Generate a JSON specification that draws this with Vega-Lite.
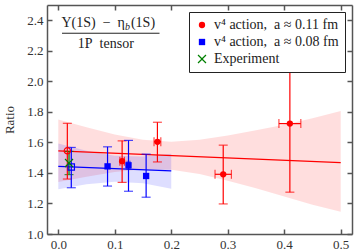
{
  "$schema": "https://vega.github.io/schema/vega-lite/v6.json",
  "width": 305,
  "height": 229,
  "autosize": {"type": "none"},
  "padding": {"left": 47, "top": 5, "right": 5, "bottom": 18},
  "datasets": {
    "pts": [
      {"series": "v⁴ action,\u00a0 a ≈ 0.11 fm", "x": 0.113, "y": 1.477, "ylo": 1.338, "yhi": 1.61, "xlo": 0.109, "xhi": 0.117},
      {"series": "v⁴ action,\u00a0 a ≈ 0.11 fm", "x": 0.1755, "y": 1.604, "ylo": 1.472, "yhi": 1.732, "xlo": 0.1695, "xhi": 0.1815},
      {"series": "v⁴ action,\u00a0 a ≈ 0.11 fm", "x": 0.292, "y": 1.391, "ylo": 1.197, "yhi": 1.582, "xlo": 0.2775, "xhi": 0.3065},
      {"series": "v⁴ action,\u00a0 a ≈ 0.11 fm", "x": 0.41, "y": 1.723, "ylo": 1.274, "yhi": 2.172, "xlo": 0.3906, "xhi": 0.4294},
      {"series": "v⁴ action,\u00a0 a ≈ 0.08 fm", "x": 0.0872, "y": 1.443, "ylo": 1.314, "yhi": 1.571},
      {"series": "v⁴ action,\u00a0 a ≈ 0.08 fm", "x": 0.1243, "y": 1.45, "ylo": 1.28, "yhi": 1.613, "xlo": 0.1218, "xhi": 0.1268},
      {"series": "v⁴ action,\u00a0 a ≈ 0.08 fm", "x": 0.1555, "y": 1.38, "ylo": 1.241, "yhi": 1.523},
      {"series": "Experiment", "x": 0.019, "y": 1.465, "ylo": 1.389, "yhi": 1.541}
    ],
    "open": [
      {"series": "v⁴ action,\u00a0 a ≈ 0.11 fm", "x": 0.016, "y": 1.545, "ylo": 1.36, "yhi": 1.725},
      {"series": "v⁴ action,\u00a0 a ≈ 0.08 fm", "x": 0.023, "y": 1.439, "ylo": 1.303, "yhi": 1.567}
    ],
    "band": [
      {"series": "v⁴ action,\u00a0 a ≈ 0.11 fm", "x": 0.0, "lo": 1.34, "hi": 1.75},
      {"series": "v⁴ action,\u00a0 a ≈ 0.11 fm", "x": 0.05, "lo": 1.375, "hi": 1.699},
      {"series": "v⁴ action,\u00a0 a ≈ 0.11 fm", "x": 0.1, "lo": 1.406, "hi": 1.652},
      {"series": "v⁴ action,\u00a0 a ≈ 0.11 fm", "x": 0.15, "lo": 1.424, "hi": 1.617},
      {"series": "v⁴ action,\u00a0 a ≈ 0.11 fm", "x": 0.2, "lo": 1.421, "hi": 1.605},
      {"series": "v⁴ action,\u00a0 a ≈ 0.11 fm", "x": 0.25, "lo": 1.393, "hi": 1.617},
      {"series": "v⁴ action,\u00a0 a ≈ 0.11 fm", "x": 0.3, "lo": 1.349, "hi": 1.645},
      {"series": "v⁴ action,\u00a0 a ≈ 0.11 fm", "x": 0.35, "lo": 1.299, "hi": 1.679},
      {"series": "v⁴ action,\u00a0 a ≈ 0.11 fm", "x": 0.4, "lo": 1.246, "hi": 1.716},
      {"series": "v⁴ action,\u00a0 a ≈ 0.11 fm", "x": 0.45, "lo": 1.191, "hi": 1.758},
      {"series": "v⁴ action,\u00a0 a ≈ 0.11 fm", "x": 0.5, "lo": 1.145, "hi": 1.805},
      {"series": "v⁴ action,\u00a0 a ≈ 0.08 fm", "x": 0.0, "lo": 1.293, "hi": 1.593},
      {"series": "v⁴ action,\u00a0 a ≈ 0.08 fm", "x": 0.05, "lo": 1.326, "hi": 1.545},
      {"series": "v⁴ action,\u00a0 a ≈ 0.08 fm", "x": 0.1, "lo": 1.343, "hi": 1.512},
      {"series": "v⁴ action,\u00a0 a ≈ 0.08 fm", "x": 0.15, "lo": 1.333, "hi": 1.508},
      {"series": "v⁴ action,\u00a0 a ≈ 0.08 fm", "x": 0.2, "lo": 1.296, "hi": 1.525}
    ],
    "fit": [
      {"series": "v⁴ action,\u00a0 a ≈ 0.11 fm", "x": 0.0, "y": 1.545},
      {"series": "v⁴ action,\u00a0 a ≈ 0.11 fm", "x": 0.5, "y": 1.467},
      {"series": "v⁴ action,\u00a0 a ≈ 0.08 fm", "x": 0.0, "y": 1.443},
      {"series": "v⁴ action,\u00a0 a ≈ 0.08 fm", "x": 0.2, "y": 1.413}
    ],
    "one": [{}]
  },
  "resolve": {"axis": {"x": "independent", "y": "independent"}},
  "layer": [
    {
      "data": {"name": "band"},
      "mark": {"type": "area", "opacity": 0.13},
      "encoding": {
        "x": {"field": "x", "type": "quantitative", "scale": {"domain": [-0.02, 0.52], "nice": false, "zero": false},
              "axis": {"orient": "bottom", "values": [0, 0.1, 0.2, 0.3, 0.4, 0.5], "format": ".1f", "title": null}},
        "y": {"field": "lo", "type": "quantitative", "scale": {"domain": [1.0, 2.5], "nice": false, "zero": false},
              "axis": {"orient": "left", "values": [1.0, 1.2, 1.4, 1.6, 1.8, 2.0, 2.2, 2.4], "format": ".1f", "title": "Ratio", "titlePadding": 10}},
        "y2": {"field": "hi"},
        "color": {"field": "series", "type": "nominal", "legend": null,
                  "scale": {"domain": ["v⁴ action,\u00a0 a ≈ 0.11 fm", "v⁴ action,\u00a0 a ≈ 0.08 fm"], "range": ["#ff0000", "#0000ff"]}},
        "detail": {"field": "series"}
      }
    },
    {
      "data": {"name": "fit"},
      "mark": {"type": "line", "strokeWidth": 1.2},
      "encoding": {
        "x": {"field": "x", "type": "quantitative", "scale": {"domain": [-0.02, 0.52], "nice": false, "zero": false},
              "axis": {"orient": "top", "values": [0, 0.1, 0.2, 0.3, 0.4, 0.5], "labels": false, "title": null}},
        "y": {"field": "y", "type": "quantitative", "scale": {"domain": [1.0, 2.5], "nice": false, "zero": false},
              "axis": {"orient": "right", "values": [1.0, 1.2, 1.4, 1.6, 1.8, 2.0, 2.2, 2.4], "labels": false, "title": null}},
        "color": {"field": "series", "type": "nominal", "legend": null,
                  "scale": {"domain": ["v⁴ action,\u00a0 a ≈ 0.11 fm", "v⁴ action,\u00a0 a ≈ 0.08 fm"], "range": ["#ff0000", "#0000ff"]}}
      }
    },
    {
      "data": {"name": "pts"},
      "transform": [{"filter": "datum.series != 'Experiment'"}],
      "mark": {"type": "errorbar", "ticks": {"size": 9, "thickness": 1.2}, "thickness": 1.2},
      "encoding": {
        "x": {"field": "x", "type": "quantitative", "scale": {"domain": [-0.02, 0.52], "nice": false, "zero": false}, "axis": null},
        "y": {"field": "ylo", "type": "quantitative", "scale": {"domain": [1.0, 2.5], "nice": false, "zero": false}, "axis": null},
        "y2": {"field": "yhi"},
        "color": {"field": "series", "type": "nominal", "legend": null,
                  "scale": {"domain": ["v⁴ action,\u00a0 a ≈ 0.11 fm", "v⁴ action,\u00a0 a ≈ 0.08 fm"], "range": ["#ff0000", "#0000ff"]}}
      }
    },
    {
      "data": {"name": "pts"},
      "transform": [{"filter": "datum.series == 'Experiment'"}],
      "mark": {"type": "errorbar", "ticks": {"size": 9, "thickness": 1.2}, "thickness": 1.2, "color": "#008000"},
      "encoding": {
        "x": {"field": "x", "type": "quantitative", "scale": {"domain": [-0.02, 0.52], "nice": false, "zero": false}, "axis": null},
        "y": {"field": "ylo", "type": "quantitative", "scale": {"domain": [1.0, 2.5], "nice": false, "zero": false}, "axis": null},
        "y2": {"field": "yhi"}
      }
    },
    {
      "data": {"name": "open"},
      "mark": {"type": "errorbar", "ticks": {"size": 9, "thickness": 1.2}, "thickness": 1.2},
      "encoding": {
        "x": {"field": "x", "type": "quantitative", "scale": {"domain": [-0.02, 0.52], "nice": false, "zero": false}, "axis": null},
        "y": {"field": "ylo", "type": "quantitative", "scale": {"domain": [1.0, 2.5], "nice": false, "zero": false}, "axis": null},
        "y2": {"field": "yhi"},
        "color": {"field": "series", "type": "nominal", "legend": null,
                  "scale": {"domain": ["v⁴ action,\u00a0 a ≈ 0.11 fm", "v⁴ action,\u00a0 a ≈ 0.08 fm"], "range": ["#ff0000", "#0000ff"]}}
      }
    },
    {
      "data": {"name": "pts"},
      "transform": [{"filter": "isValid(datum.xlo)"}],
      "mark": {"type": "errorbar", "ticks": {"size": 9, "thickness": 1.2}, "thickness": 1.2},
      "encoding": {
        "y": {"field": "y", "type": "quantitative", "scale": {"domain": [1.0, 2.5], "nice": false, "zero": false}, "axis": null},
        "x": {"field": "xlo", "type": "quantitative", "scale": {"domain": [-0.02, 0.52], "nice": false, "zero": false}, "axis": null},
        "x2": {"field": "xhi"},
        "color": {"field": "series", "type": "nominal", "legend": null,
                  "scale": {"domain": ["v⁴ action,\u00a0 a ≈ 0.11 fm", "v⁴ action,\u00a0 a ≈ 0.08 fm"], "range": ["#ff0000", "#0000ff"]}}
      }
    },
    {
      "data": {"name": "open"},
      "mark": {"type": "point", "filled": false, "strokeWidth": 1.2, "size": 40, "opacity": 1},
      "encoding": {
        "x": {"field": "x", "type": "quantitative", "scale": {"domain": [-0.02, 0.52], "nice": false, "zero": false}, "axis": null},
        "y": {"field": "y", "type": "quantitative", "scale": {"domain": [1.0, 2.5], "nice": false, "zero": false}, "axis": null},
        "color": {"field": "series", "type": "nominal", "legend": null,
                  "scale": {"domain": ["v⁴ action,\u00a0 a ≈ 0.11 fm", "v⁴ action,\u00a0 a ≈ 0.08 fm"], "range": ["#ff0000", "#0000ff"]}},
        "shape": {"condition": {"test": "indexof(datum.series, '0.08') >= 0", "value": "square"}, "value": "circle"}
      }
    },
    {
      "data": {"name": "pts"},
      "mark": {"type": "point", "filled": true, "size": 40, "opacity": 1},
      "encoding": {
        "x": {"field": "x", "type": "quantitative", "scale": {"domain": [-0.02, 0.52], "nice": false, "zero": false}, "axis": null},
        "y": {"field": "y", "type": "quantitative", "scale": {"domain": [1.0, 2.5], "nice": false, "zero": false}, "axis": null},
        "fill": {"field": "series", "type": "nominal", "title": null,
                  "scale": {"domain": ["v⁴ action,\u00a0 a ≈ 0.11 fm", "v⁴ action,\u00a0 a ≈ 0.08 fm", "Experiment"], "range": ["#ff0000", "#0000ff", "#008000"]},
                  "legend": {"orient": "top-right", "offset": 7}},
        "shape": {"field": "series", "type": "nominal", "title": null,
                  "scale": {"domain": ["v⁴ action,\u00a0 a ≈ 0.11 fm", "v⁴ action,\u00a0 a ≈ 0.08 fm", "Experiment"], "range": ["circle", "square", "M-1.4,-1.12L-1.12,-1.4L0,-0.28L1.12,-1.4L1.4,-1.12L0.28,0L1.4,1.12L1.12,1.4L0,0.28L-1.12,1.4L-1.4,1.12L-0.28,0Z"]},
                  "legend": {"orient": "top-right", "offset": 7}}
      }
    },
    {
      "data": {"name": "one"},
      "mark": {"type": "text", "text": "Υ(1S)\u2002−\u2002η", "align": "right", "baseline": "middle", "fontSize": 14, "font": "Liberation Serif", "color": "#222"},
      "encoding": {
        "x": {"datum": 0.118, "type": "quantitative", "scale": {"domain": [-0.02, 0.52], "nice": false, "zero": false}, "axis": null},
        "y": {"datum": 2.382, "type": "quantitative", "scale": {"domain": [1.0, 2.5], "nice": false, "zero": false}, "axis": null}
      }
    },
    {
      "data": {"name": "one"},
      "mark": {"type": "text", "text": "b", "align": "left", "baseline": "middle", "dy": 4, "fontSize": 10, "fontStyle": "italic", "font": "Liberation Serif", "color": "#222"},
      "encoding": {
        "x": {"datum": 0.118, "type": "quantitative", "scale": {"domain": [-0.02, 0.52], "nice": false, "zero": false}, "axis": null},
        "y": {"datum": 2.382, "type": "quantitative", "scale": {"domain": [1.0, 2.5], "nice": false, "zero": false}, "axis": null}
      }
    },
    {
      "data": {"name": "one"},
      "mark": {"type": "text", "text": "(1S)", "align": "left", "baseline": "middle", "dx": 6, "fontSize": 14, "font": "Liberation Serif", "color": "#222"},
      "encoding": {
        "x": {"datum": 0.118, "type": "quantitative", "scale": {"domain": [-0.02, 0.52], "nice": false, "zero": false}, "axis": null},
        "y": {"datum": 2.382, "type": "quantitative", "scale": {"domain": [1.0, 2.5], "nice": false, "zero": false}, "axis": null}
      }
    },
    {
      "data": {"name": "one"},
      "mark": {"type": "rule", "color": "#222", "strokeWidth": 1},
      "encoding": {
        "x": {"datum": 0.0066, "type": "quantitative", "scale": {"domain": [-0.02, 0.52], "nice": false, "zero": false}, "axis": null},
        "x2": {"datum": 0.1792},
        "y": {"datum": 2.315, "type": "quantitative", "scale": {"domain": [1.0, 2.5], "nice": false, "zero": false}, "axis": null}
      }
    },
    {
      "data": {"name": "one"},
      "mark": {"type": "text", "text": "1P\u2002tensor", "align": "center", "baseline": "middle", "fontSize": 14, "font": "Liberation Serif", "color": "#222"},
      "encoding": {
        "x": {"datum": 0.0841, "type": "quantitative", "scale": {"domain": [-0.02, 0.52], "nice": false, "zero": false}, "axis": null},
        "y": {"datum": 2.247, "type": "quantitative", "scale": {"domain": [1.0, 2.5], "nice": false, "zero": false}, "axis": null}
      }
    }
  ],
  "config": {
    "font": "Liberation Serif",
    "view": {"stroke": null},
    "axis": {
      "grid": false,
      "domainColor": "#555555",
      "domainWidth": 1.5,
      "tickColor": "#555555",
      "tickWidth": 1.5,
      "tickSize": -5,
      "labelPadding": 9,
      "labelFont": "Liberation Serif",
      "labelFontSize": 13,
      "labelColor": "#333333",
      "titleFont": "Liberation Serif",
      "titleFontSize": 13,
      "titleFontWeight": "normal",
      "titleColor": "#333333"
    },
    "legend": {
      "fillColor": "white",
      "strokeColor": "#222222",
      "padding": 6,
      "labelFont": "Liberation Serif",
      "labelFontSize": 14,
      "labelColor": "#222222",
      "labelOffset": 5,
      "rowPadding": 3,
      "symbolSize": 40,
      "symbolStrokeWidth": 0,
      "cornerRadius": 0,
      "labelLimit": 300
    }
  }
}
